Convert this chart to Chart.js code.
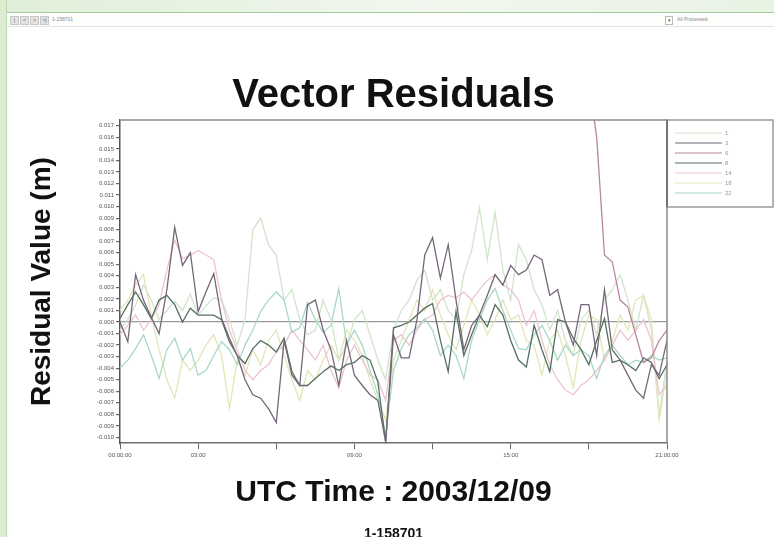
<!DOCTYPE html>
<html>
<head>
<meta charset="utf-8">
<script src="https://cdn.jsdelivr.net/npm/chart.js@4.4.1/dist/chart.umd.min.js"></script>
<style>
  html, body { margin: 0; padding: 0; background: #fff; }
  #page { position: relative; width: 774px; height: 537px; overflow: hidden; background: #fff; }
  #chart { position: absolute; left: 0; top: 0; }
  .frameTop { position: absolute; left: 0; top: 0; width: 774px; height: 12px;
    background: linear-gradient(to right, #e0efd9, #f1f7ee 55%, #e9f3e4); }
  .frameLeft { position: absolute; left: 0; top: 0; width: 6px; height: 537px;
    background: #dcedd4; border-right: 1px solid #b7d9ae; }
  .toolbar { position: absolute; left: 7px; top: 12px; width: 767px; height: 13px;
    background: #fdfefc; border-top: 1px solid #a6cd9e; border-bottom: 1px solid #e4e4e4;
    font: 5px "Liberation Sans", Arial, sans-serif; color: #888; }
  .toolbar span { position: absolute; top: 3px; line-height: 7px; height: 7px; }
  .btn { width: 7px; background: #e4e4e4; border: 1px solid #c8c8c8; text-align: center; color: #555; }
  .drop { width: 6px; border: 1px solid #bbb; text-align: center; color: #555; }
</style>
</head>
<body>
<div id="page">
  <canvas id="chart" width="774" height="537"></canvas>
  <div class="frameTop"></div>
  <div class="frameLeft"></div>
  <div class="toolbar">
    <span class="btn" style="left:3px">|</span>
    <span class="btn" style="left:13px">&lt;</span>
    <span class="btn" style="left:23px">&gt;</span>
    <span class="btn" style="left:33px">&gt;|</span>
    <span style="left:45px">1-158701</span>
    <span class="drop" style="left:658px">&#9662;</span>
    <span style="left:670px">All Processed</span>
  </div>
</div>
<script>
// epochs across the day (one category per sample)
const epochs = Array.from({ length: 71 }, (_, i) => i);
const xTickLabels = ['00:00:00', '03:00', '', '09:00', '', '15:00', '', '21:00:00'];
const yTickValues = [-0.010, -0.009, -0.008, -0.007, -0.006, -0.005, -0.004, -0.003, -0.002, -0.001,
  0, 0.001, 0.002, 0.003, 0.004, 0.005, 0.006, 0.007, 0.008, 0.009, 0.010,
  0.011, 0.012, 0.013, 0.014, 0.015, 0.016, 0.017];

// residuals in metres, one array per satellite
const prn01 = [-0.0007, 0.0002, 0.0015, 0.0032, 0.0019, 0.0002, 0.0010, 0.0018, 0.0010, 0.0024,
  0.0006, 0.0014, 0.0021, 0.0019, 0.0002, -0.0020, 0.0002, 0.0080, 0.0090, 0.0067,
  0.0058, 0.0019, 0.0028, 0.0002, -0.0011, -0.0007, 0.0019, 0.0002, -0.0033, -0.0020,
  0.0002, 0.0010, -0.0011, -0.0033, -0.0050, -0.0007, 0.0010, 0.0019, 0.0036, 0.0045,
  0.0019, 0.0028, 0.0010, 0.0002, 0.0041, 0.0062, 0.0099, 0.0054, 0.0095, 0.0045,
  0.0019, 0.0067, 0.0054, 0.0028, 0.0015, -0.0007, 0.0010, -0.0016, -0.0029, 0.0002,
  0.0010, -0.0011, 0.0019, 0.0028, 0.0041, 0.0019, -0.0007, 0.0023, -0.0007, -0.0081, -0.0033];
const prn03 = [0, -0.0017, 0.0041, 0.0019, 0.0004, -0.0010, 0.0028, 0.0082, 0.0049, 0.0060,
  0.0009, 0.0026, 0.0042, 0.0003, -0.0014, -0.0029, -0.0050, -0.0063, -0.0066, -0.0075,
  -0.0087, -0.0016, -0.0046, -0.0055, 0.0015, 0.0019, -0.0007, -0.0024, -0.0055, -0.0016,
  -0.0046, -0.0055, -0.0063, -0.0068, -0.0104, -0.0011, -0.0031, -0.0031, 0.0002, 0.0058,
  0.0073, 0.0038, 0.0067, 0.0019, -0.0024, -0.0003, 0.0006, 0.0023, 0.0041, 0.0032,
  0.0049, 0.0041, 0.0045, 0.0058, 0.0054, 0.0023, 0.0028, 0, -0.0020, 0.0015,
  0.0015, -0.0029, 0.0028, -0.0024, -0.0033, -0.0046, -0.0059, -0.0066, -0.0037, -0.0046, -0.0016];
const prn06 = [null, null, null, null, null, null, null, null, null, null,
  null, null, null, null, null, null, null, null, null, null,
  null, null, null, null, null, null, null, null, null, null,
  null, null, null, null, null, null, null, null, null, null,
  null, null, null, null, null, null, null, null, null, null,
  null, null, null, null, null, null, null, null, null, null,
  0.0210, 0.0160, 0.0058, 0.0052, 0.0019, 0.0013, -0.0011, -0.0035, -0.0031, -0.0016, -0.0007];
const prn08 = [0.0003, 0.0015, 0.0026, 0.0015, 0.0003, 0.0019, 0.0023, 0.0015, 0, 0.0012,
  0.0006, 0.0006, 0.0006, 0.0002, -0.0017, -0.0029, -0.0036, -0.0023, -0.0016, -0.0020,
  -0.0026, -0.0014, -0.0043, -0.0055, -0.0055, -0.0049, -0.0043, -0.0038, -0.0042, -0.0037,
  -0.0035, -0.0029, -0.0033, -0.0052, -0.0104, -0.0005, -0.0003, 0, 0.0006, 0.0012,
  0.0016, -0.0016, -0.0043, 0.0009, -0.0029, -0.0011, 0.0006, -0.0004, 0.0015, 0.0006,
  -0.0016, -0.0033, -0.0039, -0.0003, -0.0024, -0.0043, 0.0002, 0, -0.0014, -0.0024,
  -0.0037, -0.0016, 0.0003, -0.0035, -0.0033, -0.0037, -0.0042, -0.0031, -0.0035, -0.0049, -0.0037];
const prn14 = [-0.0011, -0.0003, 0.0006, -0.0007, 0.0002, 0.0015, 0.0045, 0.0071, 0.0055, 0.0058,
  0.0062, 0.0058, 0.0054, 0.0019, -0.0007, -0.0024, -0.0042, -0.0050, -0.0042, -0.0037,
  -0.0026, -0.0020, -0.0007, -0.0016, -0.0024, -0.0033, -0.0020, -0.0042, -0.0057, -0.0033,
  -0.0020, -0.0033, -0.0046, -0.0050, -0.0068, -0.0016, -0.0011, -0.0020, -0.0007, 0.0002,
  0.0006, 0.0019, 0.0023, 0.0021, 0.0026, 0.0019, 0.0028, 0.0036, 0.0041, 0.0032,
  0.0028, 0.0019, -0.0003, 0.0010, -0.0016, -0.0037, -0.0050, -0.0059, -0.0063, -0.0055,
  -0.0050, -0.0042, -0.0033, -0.0020, -0.0007, -0.0016, -0.0007, 0.0002, -0.0016, -0.0063, -0.0055];
const prn18 = [0.0010, 0.0019, 0.0032, 0.0041, 0.0006, -0.0024, -0.0050, -0.0066, -0.0033, -0.0042,
  -0.0033, -0.0020, -0.0011, -0.0029, -0.0075, -0.0033, -0.0046, -0.0024, -0.0037, -0.0016,
  -0.0007, -0.0029, -0.0050, -0.0068, -0.0042, -0.0050, -0.0033, -0.0020, -0.0033, -0.0007,
  -0.0016, -0.0029, -0.0050, -0.0068, -0.0085, -0.0033, -0.0016, 0.0002, 0.0019, 0.0010,
  0.0028, 0.0006, -0.0011, -0.0024, -0.0003, 0.0019, 0.0006, -0.0011, 0.0002, 0.0019,
  0.0002, 0.0006, -0.0016, -0.0020, -0.0046, -0.0016, -0.0007, -0.0029, -0.0057, -0.0016,
  0.0006, 0.0002, -0.0033, -0.0016, 0.0006, -0.0007, 0.0019, 0.0023, 0.0002, -0.0085, -0.0042];
const prn22 = [-0.0040, -0.0033, -0.0023, -0.0011, -0.0029, -0.0049, -0.0024, -0.0014, -0.0033, -0.0023,
  -0.0046, -0.0042, -0.0029, -0.0017, -0.0024, -0.0037, -0.0020, -0.0007, 0.0009, 0.0019,
  0.0026, 0.0019, -0.0009, -0.0005, 0.0017, 0.0002, -0.0009, -0.0003, 0.0029, -0.0020,
  -0.0007, -0.0020, -0.0042, -0.0063, -0.0098, -0.0042, -0.0023, -0.0011, -0.0005, 0.0003,
  -0.0007, -0.0029, -0.0020, -0.0029, -0.0049, -0.0016, 0.0002, 0.0019, 0.0029, 0.0010,
  -0.0007, -0.0023, -0.0024, -0.0011, -0.0003, -0.0016, -0.0033, -0.0020, -0.0029, -0.0024,
  -0.0029, -0.0049, -0.0029, -0.0020, -0.0029, -0.0037, -0.0033, -0.0035, -0.0029, -0.0033, -0.0031];

function line(label, data, color, order) {
  return { label, data, borderColor: color, borderWidth: 1.3, pointRadius: 0,
    tension: 0, fill: false, spanGaps: false, order };
}

// boxed legend in the space right of the plot
const legendBox = {
  id: 'legendBox',
  afterDraw(chart) {
    const { ctx, chartArea: a } = chart;
    const x0 = a.right, y0 = a.top, h = 87;
    ctx.save();
    ctx.strokeStyle = '#9a9a9a';
    ctx.lineWidth = 1.5;
    ctx.strokeRect(x0, y0, chart.width - x0 - 1, h);
    ctx.strokeStyle = '#333';
    ctx.lineWidth = 2;
    ctx.beginPath(); ctx.moveTo(x0, y0); ctx.lineTo(x0, y0 + h); ctx.stroke();
    ctx.font = '6px "Liberation Sans", Arial, sans-serif';
    ctx.textBaseline = 'middle';
    chart.data.datasets.forEach((ds, i) => {
      const y = y0 + 13 + i * 10;
      ctx.strokeStyle = ds.borderColor;
      ctx.lineWidth = 1.2;
      ctx.beginPath(); ctx.moveTo(x0 + 8, y); ctx.lineTo(x0 + 55, y); ctx.stroke();
      ctx.fillStyle = '#999';
      ctx.fillText(ds.label, x0 + 58, y);
    });
    ctx.restore();
  }
};

// top and right edges of the plot frame
const plotFrame = {
  id: 'plotFrame',
  afterDraw(chart) {
    const { ctx, chartArea: a } = chart;
    ctx.save();
    ctx.strokeStyle = '#8a8a8a';
    ctx.lineWidth = 1.5;
    ctx.beginPath();
    ctx.moveTo(a.left, a.top); ctx.lineTo(a.right, a.top); ctx.lineTo(a.right, a.bottom);
    ctx.stroke();
    ctx.restore();
  }
};

Chart.defaults.font.family = '"Liberation Sans", Arial, sans-serif';

new Chart(document.getElementById('chart'), {
  type: 'line',
  data: {
    labels: epochs,
    datasets: [
      line('1', prn01, '#d0e4ca', 7),
      line('3', prn03, '#76667a', 1),
      line('6', prn06, '#b9859c', 3),
      line('8', prn08, '#546f60', 2),
      line('14', prn14, '#ecc4cf', 5),
      line('18', prn18, '#e2e6b8', 6),
      line('22', prn22, '#a8d8c8', 4)
    ]
  },
  options: {
    responsive: false,
    animation: false,
    devicePixelRatio: 1,
    layout: { padding: { left: 0, right: 107, top: 0, bottom: 0 } },
    plugins: {
      legend: { display: false },
      tooltip: { enabled: false },
      title: {
        display: true, text: 'Vector Residuals', fullSize: false, color: '#111',
        font: { size: 40, weight: 'bold' }, padding: { top: 72, bottom: 0 }
      },
      subtitle: {
        display: true, position: 'bottom', text: '1-158701', fullSize: false, color: '#111',
        font: { size: 14, weight: 'bold' }, padding: { top: 0, bottom: -6 }
      }
    },
    scales: {
      x: {
        type: 'category',
        offset: false,
        grid: { drawOnChartArea: false, tickLength: 6, tickColor: '#666', tickWidth: 1 },
        border: { color: '#6f6f6f', width: 1.5 },
        ticks: {
          autoSkip: false, maxRotation: 0, padding: 3, color: '#555', font: { size: 6 },
          callback: (v, i) => (i % 10 === 0 ? xTickLabels[i / 10] : null)
        },
        title: {
          display: true, text: 'UTC Time : 2003/12/09', color: '#111',
          font: { size: 30, weight: 'bold' }, padding: { top: 16, bottom: 15 }
        },
        afterFit: s => { s.height = 83; }
      },
      y: {
        type: 'linear',
        min: -0.0105,
        max: 0.0175,
        afterBuildTicks: s => { s.ticks = yTickValues.map(v => ({ value: v })); },
        grid: {
          tickLength: 4, tickColor: '#666', lineWidth: 1.2,
          color: c => (c.tick && c.tick.value === 0 ? '#9a9a9a' : 'rgba(0,0,0,0)')
        },
        border: { color: '#555', width: 1.5 },
        ticks: { padding: 2, color: '#555', font: { size: 6 }, callback: v => v.toFixed(3) },
        title: {
          display: true, text: 'Residual Value (m)', color: '#111',
          font: { size: 28, weight: 'bold' }, padding: { top: 25, bottom: 0 }
        },
        afterFit: s => { s.width = 120; }
      }
    }
  },
  plugins: [legendBox, plotFrame]
});
</script>
</body>
</html>
